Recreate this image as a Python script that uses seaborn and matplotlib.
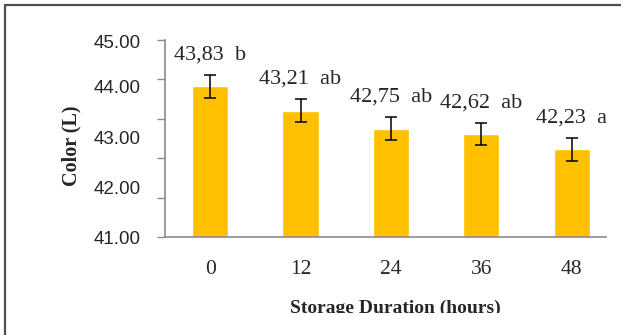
import matplotlib
matplotlib.use("Agg")
import matplotlib.pyplot as plt
from matplotlib.patches import Rectangle
from matplotlib.lines import Line2D
import seaborn as sns
import pandas as pd

# data
hours = ["0", "12", "24", "36", "48"]
color_l = [43.83, 43.21, 42.75, 42.62, 42.23]
errors = [0.29, 0.30, 0.29, 0.27, 0.29]
letters = ["b", "ab", "ab", "ab", "a"]
ytick_labels = ["45.00", "44.00", "43.00", "42.00", "41.00"]
ytick_label_pos = [44.95, 43.83, 42.54, 41.25, 40.0]

df = pd.DataFrame({"hours": hours, "color": color_l})

sns.set_style("white")
plt.rcParams["font.family"] = ["Liberation Serif", "DejaVu Serif"]

W, H = 621, 335
fig = plt.figure(figsize=(W / 100, H / 100), dpi=100)
ax = fig.add_axes([165 / W, 1 - 237.3 / H, (606 - 165) / W, (237.3 - 40) / H])

sns.barplot(data=df, x="hours", y="color", order=hours, color="#FFC000",
            width=0.4, saturation=1, errorbar=None, ax=ax)
ax.errorbar(range(len(hours)), color_l, yerr=errors, fmt="none",
            ecolor="black", elinewidth=1.1, capsize=4.3, capthick=1.1)

# value labels with significance letters
for i, (v, e, l) in enumerate(zip(color_l, errors, letters)):
    txt = f"{v:.2f}".replace(".", ",") + "  " + l
    ax.annotate(txt, xy=(i, v + e), xytext=(0, 14.5), textcoords="offset points",
                ha="center", va="center", fontsize=16)

ax.set_ylim(40, 45)
ax.set_xlim(-0.5, 4.38)
ax.yaxis.remove_overlapping_locs = False
ax.set_yticks(range(40, 46))
ax.set_yticklabels([])
ax.set_yticks(ytick_label_pos, minor=True)
ax.set_yticklabels(ytick_labels, minor=True, fontfamily="Liberation Sans", fontsize=13.5)
ax.tick_params(axis="y", which="major", length=5.8, width=1, color="#8c8c8c", direction="out", left=True)
ax.tick_params(axis="y", which="minor", length=0, pad=17.5, left=True)
ax.tick_params(axis="x", length=0, pad=16, labelsize=15.5)
ax.set_xlabel("")
ax.set_ylabel("")

sns.despine(ax=ax)
for s in ["left", "bottom"]:
    ax.spines[s].set_color("#8c8c8c")
    ax.spines[s].set_linewidth(1.2)

fig.text(71 / W, 1 - 146 / H, "Color (L)", rotation=90, fontweight="bold",
         fontsize=14.5, ha="center", va="center")
fig.text(395 / W, 1 - 300 / H, "Storage Duration (hours)", fontweight="bold",
         fontsize=14, ha="center", va="top")

# bottom of the picture is cut off
fig.patches.append(Rectangle((0, 0), 1, 22 / H, transform=fig.transFigure,
                             facecolor="white", edgecolor="none", zorder=5))
# outer frame (top and left only visible)
fig.add_artist(Line2D([5 / W, 1], [1 - 4.5 / H, 1 - 4.5 / H], color="#505050", lw=1.6, zorder=6))
fig.add_artist(Line2D([5 / W, 5 / W], [0, 1 - 4.5 / H], color="#505050", lw=1.6, zorder=6))

fig.savefig("out.png", dpi=100)
